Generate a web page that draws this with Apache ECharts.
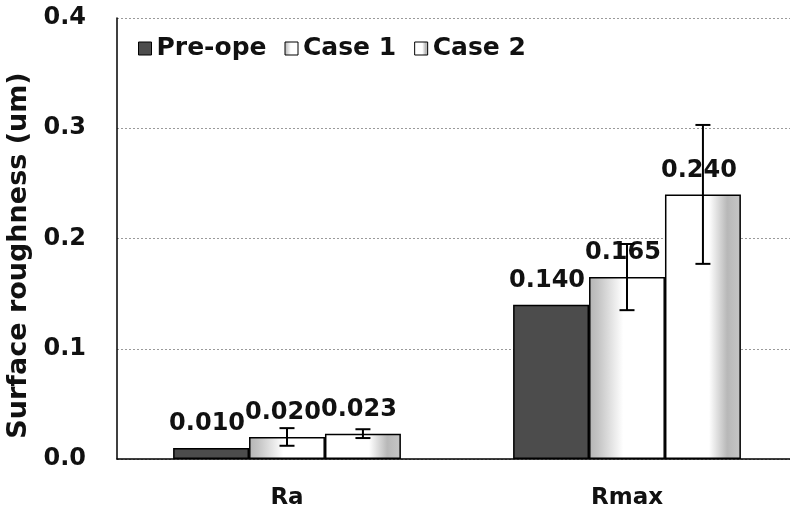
<!DOCTYPE html>
<html>
<head>
<meta charset="utf-8">
<script src="https://cdn.jsdelivr.net/npm/echarts@6/dist/echarts.min.js"></script>
<style>html,body{margin:0;padding:0;background:#fff}#c{width:790px;height:517px}</style>
</head>
<body>
<div id="c"></div>
<script>
const categories = ['Ra', 'Rmax'];
const seriesNames = ['Pre-ope', 'Case 1', 'Case 2'];
const preOpe = [0.010, 0.140];
const case1 = [0.020, 0.165];
const case2 = [0.023, 0.240];
const case1Err = [0.008, 0.030];
const case2Err = [0.004, 0.063];
const yTicks = [0, 0.1, 0.2, 0.3, 0.4];

const FONT = 'DejaVu Sans';
const GAP = 0.33;

const chart = echarts.init(document.getElementById('c'), null, {renderer: 'canvas'});

function grad(stops) {
  return new echarts.graphic.LinearGradient(0, 0, 1, 0, stops.map(s => ({offset: s[0], color: s[1]})));
}
const preColor = '#4c4c4c';
const c1Color = grad([[0, '#b4b4b4'], [0.12, '#c4c4c4'], [0.45, '#ffffff'], [1, '#ffffff']]);
const c2Color = grad([[0, '#ffffff'], [0.58, '#ffffff'], [0.82, '#b8b8b8'], [1, '#c6c6c6']]);

const labelCfg = {
  show: true, position: 'top', distance: 12, offset: [-4, 0],
  fontFamily: FONT, fontWeight: 'bold', fontSize: 24, color: '#111',
  formatter: p => p.value.toFixed(3)
};

function errData(vals, errs) {
  return vals.map((v, i) => [i, v, errs[i]]);
}
function errRender(offsetIdx) {
  return function (params, api) {
    const i = api.value(0), v = api.value(1), e = api.value(2);
    const band = api.size([1, 0])[0];
    const barW = band * (1 - GAP) / 3;
    const x = api.coord([i, v])[0] + offsetIdx * barW;
    const yTop = api.coord([i, v + e])[1];
    const yBot = api.coord([i, v - e])[1];
    const cap = 7.5;
    const st = {stroke: '#000', lineWidth: 2};
    return {
      type: 'group',
      children: [
        {type: 'line', shape: {x1: x, y1: yTop, x2: x, y2: yBot}, style: st},
        {type: 'line', shape: {x1: x - cap, y1: yTop, x2: x + cap, y2: yTop}, style: st},
        {type: 'line', shape: {x1: x - cap, y1: yBot, x2: x + cap, y2: yBot}, style: st}
      ]
    };
  };
}

chart.setOption({
  animation: false,
  backgroundColor: '#fff',
  grid: {left: 117, right: -7, top: 18, bottom: 58, containLabel: false, outerBoundsMode: 'none'},
  legend: {
    data: seriesNames,
    left: 133, top: 31,
    icon: 'rect', itemWidth: 13, itemHeight: 13, itemGap: 18,
    textStyle: {fontFamily: FONT, fontWeight: 'bold', fontSize: 25, color: '#111'},
    itemStyle: {borderColor: '#000', borderWidth: 1}
  },
  xAxis: {
    type: 'category',
    data: categories,
    axisLine: {lineStyle: {color: '#000', width: 1.5}},
    axisTick: {show: false},
    axisLabel: {margin: 28, fontFamily: FONT, fontWeight: 'bold', fontSize: 23, color: '#111'}
  },
  yAxis: {
    type: 'value',
    min: 0, max: 0.4, interval: 0.1,
    name: 'Surface roughness (um)',
    nameLocation: 'middle',
    nameGap: 81,
    nameTextStyle: {fontFamily: FONT, fontWeight: 'bold', fontSize: 27, color: '#111', padding: [0, 34, 0, 0]},
    axisLine: {show: true, lineStyle: {color: '#000', width: 1.5}},
    axisTick: {show: false},
    axisLabel: {
      margin: 31, fontFamily: FONT, fontWeight: 'bold', fontSize: 24, color: '#111',
      formatter: v => { const t = yTicks.find(k => Math.abs(k - v) < 1e-9); return (t !== undefined ? t : v).toFixed(1); }
    },
    splitLine: {show: true, lineStyle: {color: '#9a9a9a', width: 1, type: [2, 2]}}
  },
  series: [
    {
      name: seriesNames[0], type: 'bar', data: preOpe,
      barGap: '0%', barCategoryGap: (GAP * 100) + '%',
      itemStyle: {color: preColor, borderColor: '#000', borderWidth: 1.5},
      label: labelCfg
    },
    {
      name: seriesNames[1], type: 'bar', data: case1,
      itemStyle: {color: c1Color, borderColor: '#000', borderWidth: 1.5},
      label: labelCfg
    },
    {
      name: seriesNames[2], type: 'bar', data: case2,
      itemStyle: {color: c2Color, borderColor: '#000', borderWidth: 1.5},
      label: labelCfg
    },
    {
      type: 'custom', name: 'err1', data: errData(case1, case1Err),
      encode: {x: 0, y: 1}, renderItem: errRender(0), z: 10, silent: true
    },
    {
      type: 'custom', name: 'err2', data: errData(case2, case2Err),
      encode: {x: 0, y: 1}, renderItem: errRender(1), z: 10, silent: true
    }
  ]
});
</script>
</body>
</html>
